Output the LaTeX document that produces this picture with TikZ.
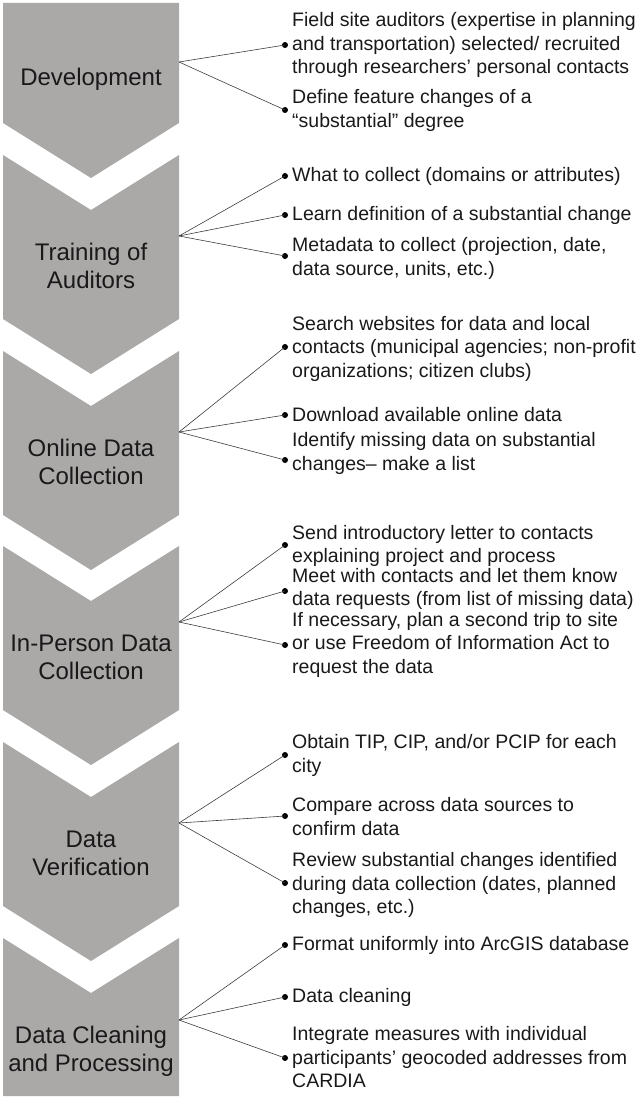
\documentclass[tikz,border=0pt]{standalone}
\usepackage{fontspec}
\setmainfont{Liberation Sans}
\usetikzlibrary{positioning}
\definecolor{chevgray}{RGB}{171,168,168}
\definecolor{linkgray}{RGB}{60,60,60}

\begin{document}
\begin{tikzpicture}[x=1pt,y=-1pt,
    chev/.style={fill=chevgray,draw=none},
    stage/.style={align=center,font=\fontsize{24}{28}\selectfont,text=black!90,inner sep=0pt},
    item/.style={anchor=west,align=left,font=\fontsize{19.5}{23.5}\selectfont,text=black!90,inner sep=0pt},
    dot/.style={circle,fill=black,inner sep=0pt,minimum size=6pt},
    link/.style={draw=linkgray,line width=0.6pt}]
        %\draw [step=50] (0,0) grid (641,1099);
        \useasboundingbox (0,0) rectangle (641,1099);

        % chevrons
        \fill[chev] (3,3) -- (179,3) -- (179,123) -- (91,178) -- (3,123) -- cycle;
        \fill[chev] (3,155) -- (91,210) -- (179,155) -- (179,319) -- (91,374) -- (3,319) -- cycle;
        \fill[chev] (3,351) -- (91,406) -- (179,351) -- (179,515) -- (91,570) -- (3,515) -- cycle;
        \fill[chev] (3,546) -- (91,601) -- (179,546) -- (179,710) -- (91,765) -- (3,710) -- cycle;
        \fill[chev] (3,742) -- (91,797) -- (179,742) -- (179,906) -- (91,961) -- (3,906) -- cycle;
        \fill[chev] (3,938) -- (91,993) -- (179,938) -- (179,1096) -- (3,1096) -- cycle;

        \node[stage] (dev) at (91,79) {Development};
        \node[stage] (train) at (91,266) {Training of\\Auditors};
        \node[stage] (online) at (91,462) {Online Data\\Collection};
        \node[stage] (person) at (91,657) {In-Person Data\\Collection};
        \node[stage] (verif) at (91,853) {Data\\Verification};
        \node[stage] (clean) at (91,1051) {Data Cleaning\\and Processing};

        \coordinate (o1) at (179,62);
        \coordinate (o2) at (179,236);
        \coordinate (o3) at (179,432);
        \coordinate (o4) at (179,622);
        \coordinate (o5) at (179,823);
        \coordinate (o6) at (179,1020);

        % development
        \node[dot] (b1) at (285,45) {};
        \node[item] (t1) at (292,45) {Field site auditors (expertise in planning\\and transportation) selected/ recruited\\through researchers’ personal contacts};
        \node[dot] (b2) at (285,110) {};
        \node[item] (t2) at (292,110.5) {Define feature changes of a\\“substantial” degree};
        % training
        \node[dot] (b3) at (285,176) {};
        \node[item] (t3) at (292,176) {What to collect (domains or attributes)};
        \node[dot] (b4) at (285,215) {};
        \node[item] (t4) at (292,215) {Learn definition of a substantial change};
        \node[dot] (b5) at (285,256) {};
        \node[item] (t5) at (292,258.5) {Metadata to collect (projection, date,\\data source, units, etc.)};
        % online
        \node[dot] (b6) at (285,347) {};
        \node[item] (t6) at (292,348.5) {Search websites for data and local\\contacts (municipal agencies; non-profit\\organizations; citizen clubs)};
        \node[dot] (b7) at (285,415) {};
        \node[item] (t7) at (292,415) {Download available online data};
        \node[dot] (b8) at (285,460) {};
        \node[item] (t8) at (292,453.5) {Identify missing data on substantial\\changes– make a list};
        % in-person
        \node[dot] (b9) at (285,545) {};
        \node[item] (t9) at (292,546) {Send introductory letter to contacts\\explaining project and process};
        \node[dot] (b10) at (285,591) {};
        \node[item] (t10) at (292,589) {Meet with contacts and let them know\\data requests (from list of missing data)};
        \node[dot] (b11) at (285,645) {};
        \node[item] (t11) at (292,644.5) {If necessary, plan a second trip to site\\or use Freedom of Information Act to\\request the data};
        % verification
        \node[dot] (b12) at (285,755) {};
        \node[item] (t12) at (292,755.5) {Obtain TIP, CIP, and/or PCIP for each\\city};
        \node[dot] (b13) at (285,816) {};
        \node[item] (t13) at (292,816.5) {Compare across data sources to\\confirm data};
        \node[dot] (b14) at (285,883) {};
        \node[item] (t14) at (292,885) {Review substantial changes identified\\during data collection (dates, planned\\changes, etc.)};
        % cleaning
        \node[dot] (b15) at (285,945) {};
        \node[item] (t15) at (292,945) {Format uniformly into ArcGIS database};
        \node[dot] (b16) at (285,997) {};
        \node[item] (t16) at (292,997) {Data cleaning};
        \node[dot] (b17) at (285,1058) {};
        \node[item] (t17) at (292,1057.5) {Integrate measures with individual\\participants’ geocoded addresses from\\CARDIA};

        \draw[link] (o1) -- (b1.center);
        \draw[link] (o1) -- (b2.center);
        \draw[link] (o2) -- (b3.center);
        \draw[link] (o2) -- (b4.center);
        \draw[link] (o2) -- (b5.center);
        \draw[link] (o3) -- (b6.center);
        \draw[link] (o3) -- (b7.center);
        \draw[link] (o3) -- (b8.center);
        \draw[link] (o4) -- (b9.center);
        \draw[link] (o4) -- (b10.center);
        \draw[link] (o4) -- (b11.center);
        \draw[link] (o5) -- (b12.center);
        \draw[link] (o5) -- (b13.center);
        \draw[link] (o5) -- (b14.center);
        \draw[link] (o6) -- (b15.center);
        \draw[link] (o6) -- (b16.center);
        \draw[link] (o6) -- (b17.center);
    \end{tikzpicture}
\end{document}
